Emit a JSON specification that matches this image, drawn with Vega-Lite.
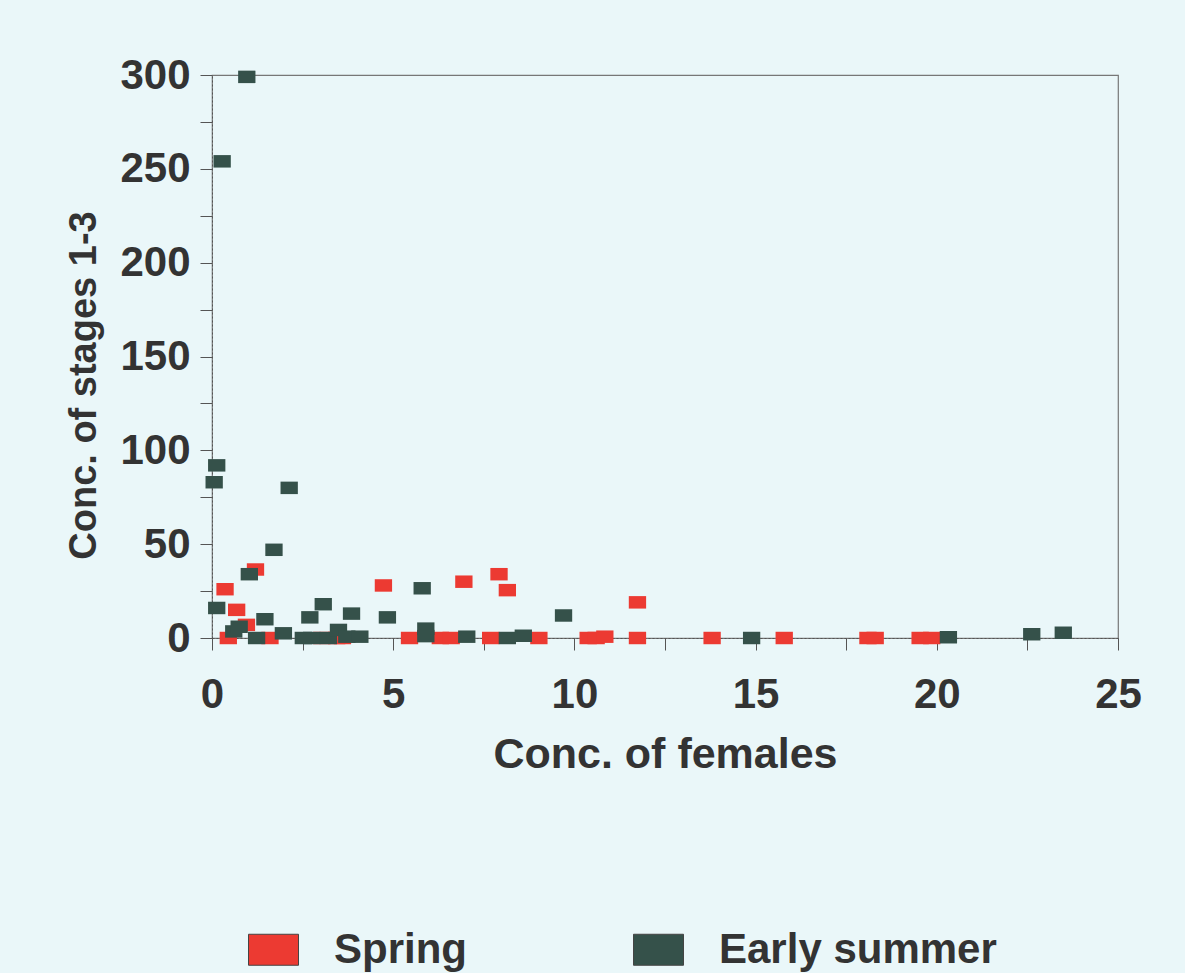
{
  "$schema": "https://vega.github.io/schema/vega-lite/v6.json",
  "width": 906,
  "height": 563,
  "autosize": "none",
  "padding": {"left": 212, "top": 75, "right": 67, "bottom": 335},
  "background": "#eaf7f9",
  "config": {
    "view": {"stroke": "#777", "strokeWidth": 1.2},
    "font": "Liberation Sans",
    "axis": {
      "labelFont": "Liberation Sans",
      "titleFont": "Liberation Sans",
      "labelFontSize": 42,
      "titleFontSize": 42,
      "labelFontWeight": "bold",
      "titleFontWeight": "bold",
      "labelColor": "#333",
      "titleColor": "#333",
      "domainColor": "#555",
      "domainDash": [2, 2],
      "tickColor": "#555",
      "tickSize": 12,
      "grid": false
    },
    "legend": {
      "labelFont": "Liberation Sans",
      "labelFontSize": 42,
      "labelFontWeight": "bold",
      "labelColor": "#333",
      "labelLimit": 0
    }
  },
  "data": {
    "values": [
      {"females": 0.36, "stages": 26, "season": "Spring"},
      {"females": 1.2, "stages": 36.5, "season": "Spring"},
      {"females": 0.68, "stages": 15, "season": "Spring"},
      {"females": 0.95, "stages": 7, "season": "Spring"},
      {"females": 0.45, "stages": 0, "season": "Spring"},
      {"females": 1.6, "stages": 0, "season": "Spring"},
      {"females": 3.03, "stages": 0, "season": "Spring"},
      {"females": 3.44, "stages": 0, "season": "Spring"},
      {"females": 3.6, "stages": 0, "season": "Spring"},
      {"females": 4.73, "stages": 28, "season": "Spring"},
      {"females": 5.45, "stages": 0, "season": "Spring"},
      {"females": 6.3, "stages": 0, "season": "Spring"},
      {"females": 6.6, "stages": 0, "season": "Spring"},
      {"females": 6.95, "stages": 30, "season": "Spring"},
      {"females": 7.92, "stages": 34, "season": "Spring"},
      {"females": 8.15, "stages": 25.5, "season": "Spring"},
      {"females": 7.69, "stages": 0, "season": "Spring"},
      {"females": 9.02, "stages": 0, "season": "Spring"},
      {"females": 10.38, "stages": 0, "season": "Spring"},
      {"females": 10.6, "stages": 0, "season": "Spring"},
      {"females": 10.84, "stages": 0.7, "season": "Spring"},
      {"females": 11.74, "stages": 19, "season": "Spring"},
      {"females": 11.74, "stages": 0, "season": "Spring"},
      {"females": 13.8, "stages": 0, "season": "Spring"},
      {"females": 15.79, "stages": 0, "season": "Spring"},
      {"females": 18.1, "stages": 0, "season": "Spring"},
      {"females": 18.3, "stages": 0, "season": "Spring"},
      {"females": 19.54, "stages": 0, "season": "Spring"},
      {"females": 19.86, "stages": 0, "season": "Spring"},
      {"females": 0.13, "stages": 92, "season": "Early summer"},
      {"females": 0.06, "stages": 83, "season": "Early summer"},
      {"females": 2.13, "stages": 80, "season": "Early summer"},
      {"females": 1.71, "stages": 47, "season": "Early summer"},
      {"females": 1.03, "stages": 34, "season": "Early summer"},
      {"females": 0.13, "stages": 16, "season": "Early summer"},
      {"females": 0.6, "stages": 3.5, "season": "Early summer"},
      {"females": 0.75, "stages": 6, "season": "Early summer"},
      {"females": 1.46, "stages": 10, "season": "Early summer"},
      {"females": 1.23, "stages": 0, "season": "Early summer"},
      {"females": 1.97, "stages": 2.5, "season": "Early summer"},
      {"females": 2.52, "stages": 0, "season": "Early summer"},
      {"females": 2.7, "stages": 11, "season": "Early summer"},
      {"females": 3.07, "stages": 18, "season": "Early summer"},
      {"females": 2.75, "stages": 0, "season": "Early summer"},
      {"females": 3.21, "stages": 0, "season": "Early summer"},
      {"females": 3.49, "stages": 4.3, "season": "Early summer"},
      {"females": 3.85, "stages": 13, "season": "Early summer"},
      {"females": 3.72, "stages": 0.7, "season": "Early summer"},
      {"females": 4.08, "stages": 0.7, "season": "Early summer"},
      {"females": 4.84, "stages": 11, "season": "Early summer"},
      {"females": 5.8, "stages": 26.5, "season": "Early summer"},
      {"females": 5.9, "stages": 5, "season": "Early summer"},
      {"females": 5.9, "stages": 1, "season": "Early summer"},
      {"females": 7.03, "stages": 0.7, "season": "Early summer"},
      {"females": 8.15, "stages": 0, "season": "Early summer"},
      {"females": 8.59, "stages": 1.2, "season": "Early summer"},
      {"females": 9.7, "stages": 12, "season": "Early summer"},
      {"females": 14.89, "stages": 0, "season": "Early summer"},
      {"females": 20.32, "stages": 0.4, "season": "Early summer"},
      {"females": 22.62, "stages": 2, "season": "Early summer"},
      {"females": 23.49, "stages": 2.8, "season": "Early summer"},
      {"females": 0.96, "stages": 299, "season": "Early summer"},
      {"females": 0.28, "stages": 254, "season": "Early summer"}
    ]
  },
  "mark": {
    "type": "point",
    "filled": true,
    "opacity": 1,
    "shape": "M-1,-0.72H1V0.72H-1Z",
    "size": 300
  },
  "encoding": {
    "x": {
      "field": "females",
      "type": "quantitative",
      "title": "Conc. of females",
      "scale": {"domain": [0, 25], "nice": false, "zero": true},
      "axis": {
        "values": [0, 2.5, 5, 7.5, 10, 12.5, 15, 17.5, 20, 22.5, 25],
        "labelExpr": "datum.value % 5 == 0 ? datum.label : ''",
        "labelPadding": 24,
        "titlePadding": 18,
        "titleFontSize": 43,
        "labelFlush": false,
        "labelOverlap": false
      }
    },
    "y": {
      "field": "stages",
      "type": "quantitative",
      "title": "Conc. of stages 1-3",
      "scale": {"domain": [0, 300], "nice": false},
      "axis": {
        "values": [0, 25, 50, 75, 100, 125, 150, 175, 200, 225, 250, 275, 300],
        "labelExpr": "datum.value % 50 == 0 ? datum.label : ''",
        "labelPadding": 10,
        "titlePadding": 16,
        "titleFontSize": 38,
        "titleY": 310,
        "labelFlush": false,
        "labelOverlap": false
      }
    },
    "color": {
      "field": "season",
      "type": "nominal",
      "scale": {"domain": ["Spring", "Early summer"], "range": ["#ec3a32", "#35514a"]},
      "legend": {
        "title": null,
        "orient": "none",
        "direction": "horizontal",
        "columns": 2,
        "legendX": 36,
        "legendY": 849,
        "symbolType": "M-1,-0.62H1V0.62H-1Z",
        "symbolSize": 2500,
        "symbolStrokeColor": "#444",
        "symbolStrokeWidth": 1,
        "labelOffset": 35,
        "columnPadding": 164
      }
    }
  }
}
